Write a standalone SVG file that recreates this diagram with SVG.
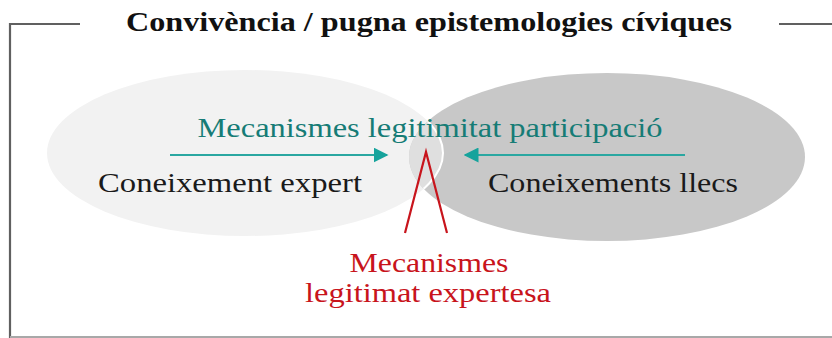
<svg xmlns="http://www.w3.org/2000/svg" width="832" height="338" viewBox="0 0 832 338">
<style>
.t{font-family:"Liberation Serif","DejaVu Serif",serif;}
.title{font-size:27px;font-weight:bold;fill:#111;}
.teal{font-size:28px;fill:#167c76;}
.blk{font-size:28px;fill:#1a1a1a;}
.red{font-size:28px;fill:#c8141c;}
.arr{stroke:#2aa7a1;stroke-width:2;fill:none;}
.frame{stroke:#606060;stroke-width:2.2;fill:none;}
</style>
<defs>
<marker id="ah" viewBox="0 0 10 10" refX="9" refY="5" markerWidth="15" markerHeight="15" markerUnits="userSpaceOnUse" orient="auto">
<path d="M0,0 L10,5 L0,10 Z" fill="#16a39c"/>
</marker>
<clipPath id="rc"><ellipse cx="607" cy="157" rx="198" ry="84"/></clipPath>
</defs>
<rect width="832" height="338" fill="#ffffff"/>
<g id="frame">
<path class="frame" d="M80,24 L10,24 L10,338"/>
<path class="frame" d="M779,24 L832,24"/>
<path d="M10,337 L832,337" stroke="#a8a8a8" stroke-width="2" fill="none"/>
</g>
<g id="title"><text class="t title" x="429" y="31" text-anchor="middle" textLength="606" lengthAdjust="spacingAndGlyphs">Convivència / pugna epistemologies cíviques</text></g>
<g id="expert">
<ellipse cx="245" cy="153" rx="198" ry="83" fill="#f2f2f2"/>
</g>
<g id="llecs">
<ellipse cx="607" cy="157" rx="198" ry="84" fill="#c8c8c8"/>
</g>
<g id="overlap">
<ellipse clip-path="url(#rc)" cx="245" cy="153" rx="198" ry="83" fill="#dfdfdf" stroke="#ffffff" stroke-width="2"/>
</g>
<g id="labels">
<text class="t blk" x="230" y="192" text-anchor="middle" textLength="264" lengthAdjust="spacingAndGlyphs">Coneixement expert</text>
<text class="t blk" x="613" y="192" text-anchor="middle" textLength="250" lengthAdjust="spacingAndGlyphs">Coneixements llecs</text>
</g>
<g id="participacio">
<text class="t teal" x="430" y="137" text-anchor="middle" textLength="465" lengthAdjust="spacingAndGlyphs">Mecanismes legitimitat participació</text>
</g>
<g id="expertesa">
<text class="t red" x="429" y="272" text-anchor="middle" textLength="159" lengthAdjust="spacingAndGlyphs">Mecanismes</text>
<text class="t red" x="428" y="302" text-anchor="middle" textLength="246" lengthAdjust="spacingAndGlyphs">legitimat expertesa</text>
</g>
<g id="connectors">
<line class="arr" x1="170" y1="155" x2="387" y2="155" marker-end="url(#ah)"/>
<line class="arr" x1="685" y1="155" x2="465" y2="155" marker-end="url(#ah)"/>
<path d="M405,233 L426,152 L447,233" stroke="#c8141c" stroke-width="2.2" fill="none"/>
</g>
</svg>
